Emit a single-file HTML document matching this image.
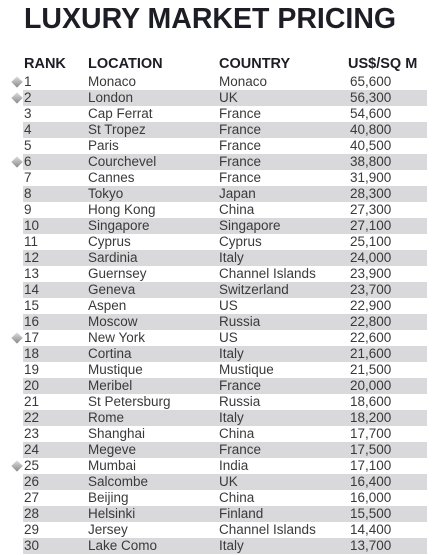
<!DOCTYPE html>
<html><head><meta charset="utf-8"><style>
body{margin:0;width:446px;height:555px;background:#fff;overflow:hidden;font-family:"Liberation Sans",sans-serif;position:relative}
#title{position:absolute;left:24px;top:3px;font-size:28.5px;font-weight:bold;color:#1d1d26;white-space:nowrap}
.h{position:absolute;top:56px;font-size:14.5px;font-weight:bold;color:#1d1d26}
.row{position:absolute;left:23px;width:404px;height:16px;font-size:13.5px;color:#3a3a3a;line-height:16px}
.row.alt{background:#d9d9db}
.row span{position:absolute;top:0;white-space:nowrap}
.dia{position:absolute;width:8px;height:8px;background:linear-gradient(135deg,#ddd,#888);transform:rotate(45deg);left:-10px;top:4px}
</style></head><body>
<div id="title">LUXURY MARKET PRICING</div>
<div class="h" style="left:24px">RANK</div>
<div class="h" style="left:88px">LOCATION</div>
<div class="h" style="left:219px">COUNTRY</div>
<div class="h" style="left:348px">US$/SQ M</div>
<div id="rows"></div>
<script>
const locations=["Monaco","London","Cap Ferrat","St Tropez","Paris","Courchevel","Cannes","Tokyo","Hong Kong","Singapore","Cyprus","Sardinia","Guernsey","Geneva","Aspen","Moscow","New York","Cortina","Mustique","Meribel","St Petersburg","Rome","Shanghai","Megeve","Mumbai","Salcombe","Beijing","Helsinki","Jersey","Lake Como"];
const countries=["Monaco","UK","France","France","France","France","France","Japan","China","Singapore","Cyprus","Italy","Channel Islands","Switzerland","US","Russia","US","Italy","Mustique","France","Russia","Italy","China","France","India","UK","China","Finland","Channel Islands","Italy"];
const prices=[65600,56300,54600,40800,40500,38800,31900,28300,27300,27100,25100,24000,23900,23700,22900,22800,22600,21600,21500,20000,18600,18200,17700,17500,17100,16400,16000,15500,14400,13700];
const marked=[1,2,6,17,25];
const c=document.getElementById('rows');
locations.forEach((loc,i)=>{
  const r=document.createElement('div');
  r.className='row'+(i%2===1?' alt':'');
  r.style.top=(74+i*16)+'px';
  
  
  if(marked.includes(i+1)){const d=document.createElement('div');d.className='dia';
    
    
    r.appendChild(d);}
  const cells=[[1,String(i+1)],[65,loc],[196,countries[i]],[327,prices[i].toLocaleString('en-US')]];
  cells.forEach(([x,t])=>{const s=document.createElement('span');s.style.left=x+'px';s.textContent=t;r.appendChild(s);});
  c.appendChild(r);
});
</script>
</body></html>
